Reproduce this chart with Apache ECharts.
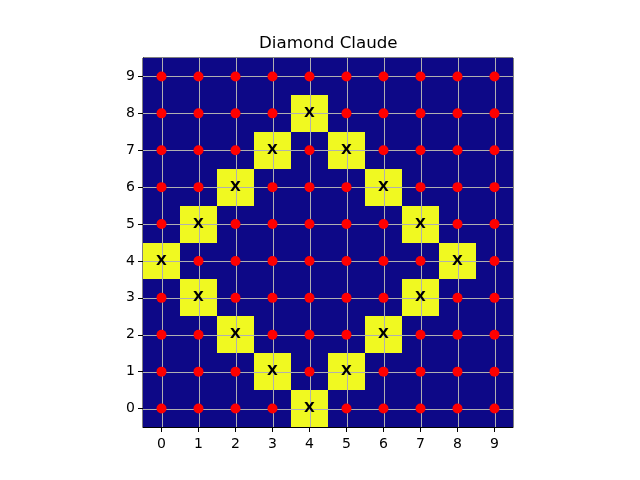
<!DOCTYPE html>
<html>
<head>
<meta charset="utf-8">
<script src="https://cdn.jsdelivr.net/npm/echarts@6/dist/echarts.min.js"></script>
<style>html,body{margin:0;padding:0;background:#fff}#c{width:640px;height:480px}</style>
</head>
<body>
<div id="c"></div>
<script>
// Tick labels / categories
var xTicks = [0, 1, 2, 3, 4, 5, 6, 7, 8, 9];
var yTicks = [0, 1, 2, 3, 4, 5, 6, 7, 8, 9];
// Cell values by row (index = y, 0 at bottom); 1 = diamond cell "X"
var row0 = [0, 0, 0, 0, 1, 0, 0, 0, 0, 0];
var row1 = [0, 0, 0, 1, 0, 1, 0, 0, 0, 0];
var row2 = [0, 0, 1, 0, 0, 0, 1, 0, 0, 0];
var row3 = [0, 1, 0, 0, 0, 0, 0, 1, 0, 0];
var row4 = [1, 0, 0, 0, 0, 0, 0, 0, 1, 0];
var row5 = [0, 1, 0, 0, 0, 0, 0, 1, 0, 0];
var row6 = [0, 0, 1, 0, 0, 0, 1, 0, 0, 0];
var row7 = [0, 0, 0, 1, 0, 1, 0, 0, 0, 0];
var row8 = [0, 0, 0, 0, 1, 0, 0, 0, 0, 0];
var row9 = [0, 0, 0, 0, 0, 0, 0, 0, 0, 0];
var rows = [row0, row1, row2, row3, row4, row5, row6, row7, row8, row9];
var titleText = 'Diamond Claude';
var markText = 'X';

var cellData = [], dotData = [], markData = [];
rows.forEach(function (r, y) {
  r.forEach(function (v, x) {
    cellData.push([xTicks[x], yTicks[y], v]);
    if (v === 1) markData.push([xTicks[x], yTicks[y]]);
    else dotData.push([xTicks[x], yTicks[y]]);
  });
});
var lineData = xTicks.map(function (t) { return [t]; });

var FONT = 'DejaVu Sans';
var chart = echarts.init(document.getElementById('c'), null, {renderer: 'canvas'});
var axisCommon = function (ticks, margin) {
  return {
    type: 'value', min: -0.5, max: 9.5,
    axisLine: {show: true, onZero: false, lineStyle: {color: '#000', width: 1}},
    axisTick: {show: true, length: 5, inside: false, customValues: ticks, lineStyle: {color: '#000', width: 1}},
    axisLabel: {show: true, customValues: ticks, color: '#000', fontFamily: FONT, fontSize: 14, margin: margin},
    splitLine: {show: false}
  };
};
chart.setOption({
  animation: false,
  backgroundColor: '#fff',
  title: {text: titleText, left: 259, top: 35, padding: 0,
    textStyle: {fontFamily: FONT, fontSize: 16.7, fontWeight: 'normal', color: '#000'}},
  grid: {left: 143, right: 127, top: 58, bottom: 53, show: true, borderColor: '#000', borderWidth: 1, backgroundColor: 'transparent'},
  xAxis: axisCommon(xTicks, 10),
  yAxis: axisCommon(yTicks, 8),
  visualMap: {show: false, seriesIndex: 0, dimension: 2, min: 0, max: 1, inRange: {color: ['#0d0887', '#f0f921']}},
  series: [
    {
      type: 'custom', z: 1, data: cellData, encode: {x: 0, y: 1},
      renderItem: function (params, api) {
        var p0 = api.coord([api.value(0) - 0.5, api.value(1) + 0.5]);
        var p1 = api.coord([api.value(0) + 0.5, api.value(1) - 0.5]);
        var x0 = Math.round(p0[0]), y0 = Math.round(p0[1]);
        var x1 = Math.round(p1[0]), y1 = Math.round(p1[1]);
        return {type: 'rect', shape: {x: x0, y: y0, width: x1 - x0, height: y1 - y0},
          style: {fill: api.visual('color'), stroke: null}};
      }
    },
    {
      type: 'custom', z: 2, data: lineData, encode: {x: 0},
      renderItem: function (params, api) {
        var v = api.value(0);
        var a = api.coord([v, -0.5]), b = api.coord([v, 9.5]);
        var c = api.coord([-0.5, v]), d = api.coord([9.5, v]);
        var st = {stroke: '#b0b0b0', lineWidth: 1};
        return {type: 'group', children: [
          {type: 'line', shape: {x1: Math.round(a[0]) + 0.5, y1: a[1], x2: Math.round(b[0]) + 0.5, y2: b[1]}, style: st},
          {type: 'line', shape: {x1: c[0], y1: Math.round(c[1]) + 0.5, x2: d[0], y2: Math.round(d[1]) + 0.5}, style: st}
        ]};
      }
    },
    {
      type: 'scatter', z: 3, data: dotData, symbol: 'circle', symbolSize: 10,
      itemStyle: {color: '#ff0000', opacity: 1}
    },
    {
      type: 'custom', z: 4, data: markData, encode: {x: 0, y: 1},
      renderItem: function (params, api) {
        var p = api.coord([api.value(0), api.value(1)]);
        return {type: 'text', x: p[0], y: p[1], style: {text: markText, fill: '#000',
          font: 'bold 14px "DejaVu Sans"', align: 'center', verticalAlign: 'middle'}};
      }
    }
  ]
});
</script>
</body>
</html>
